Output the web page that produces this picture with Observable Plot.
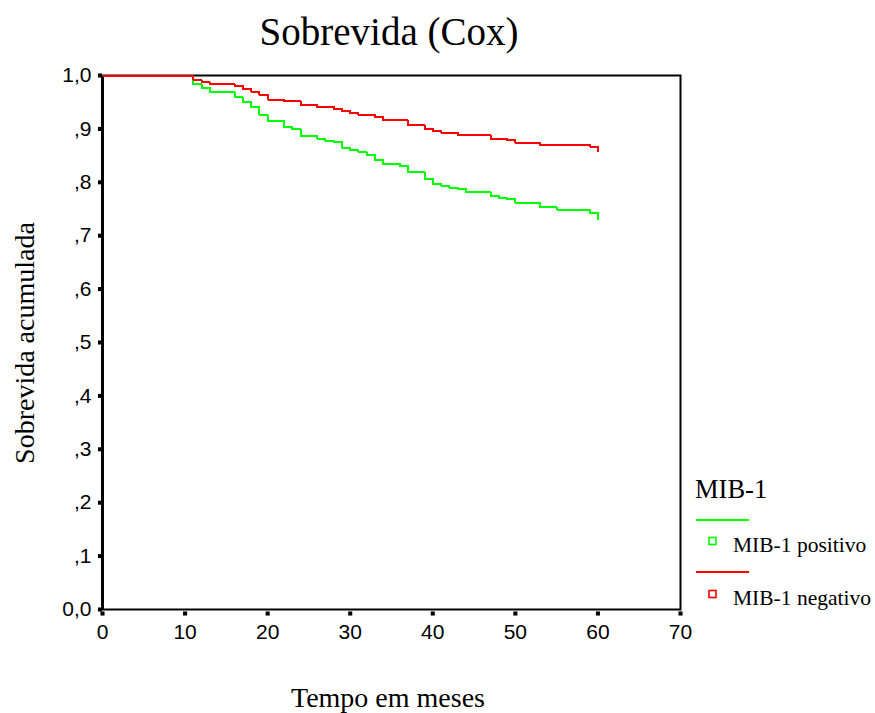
<!DOCTYPE html>
<html>
<head>
<meta charset="utf-8">
<script src="https://cdn.jsdelivr.net/npm/d3@7"></script>
<script src="https://cdn.jsdelivr.net/npm/@observablehq/plot@0.6"></script>
<style>
  html, body { margin: 0; padding: 0; background: #fff; }
  #chart { width: 875px; height: 713px; }
</style>
</head>
<body>
<div id="chart"></div>
<script>
// ---- Data ----
const titleText = "Sobrevida (Cox)";
const xLabel = "Tempo em meses";
const yLabel = "Sobrevida acumulada";
const legendTitle = "MIB-1";
const seriesNames = ["MIB-1 positivo", "MIB-1 negativo"];
const seriesColors = ["#00ff00", "#ff0000"];

const xTicks = [0, 10, 20, 30, 40, 50, 60, 70];
const yTicks = [0, 0.1, 0.2, 0.3, 0.4, 0.5, 0.6, 0.7, 0.8, 0.9, 1.0];
const yTickLabels = ["0,0", ",1", ",2", ",3", ",4", ",5", ",6", ",7", ",8", ",9", "1,0"];

// MIB-1 positivo (green) step curve: time (months) and cumulative survival
const posTimes = [0, 11, 12, 13, 16, 17, 18, 19, 20, 22, 23, 24, 26, 27, 28, 29, 30, 31, 32, 33, 34, 36, 37, 39, 40, 41, 42, 43, 44, 47, 48, 49, 50, 53, 55, 59, 60, 60];
const posSurv  = [1.000, 0.984, 0.977, 0.969, 0.959, 0.951, 0.941, 0.926, 0.915, 0.903, 0.899, 0.886, 0.882, 0.878, 0.875, 0.865, 0.860, 0.856, 0.851, 0.841, 0.834, 0.830, 0.819, 0.807, 0.797, 0.794, 0.790, 0.787, 0.782, 0.775, 0.771, 0.769, 0.762, 0.753, 0.749, 0.742, 0.735, 0.731];

// MIB-1 negativo (red) step curve
const negTimes = [0, 11, 12, 13, 16, 17, 18, 19, 20, 22, 24, 26, 28, 29, 30, 31, 33, 34, 37, 39, 40, 41, 43, 47, 49, 50, 53, 59, 60, 60];
const negSurv  = [1.000, 0.992, 0.987, 0.984, 0.981, 0.974, 0.970, 0.964, 0.955, 0.952, 0.945, 0.941, 0.937, 0.933, 0.929, 0.926, 0.922, 0.916, 0.907, 0.900, 0.896, 0.893, 0.889, 0.881, 0.879, 0.874, 0.870, 0.867, 0.862, 0.858];

// ---- Build tables ----
const pos = posTimes.map((t, i) => ({t, s: posSurv[i]}));
const neg = negTimes.map((t, i) => ({t, s: negSurv[i]}));
const yLabelMap = new Map(yTicks.map((d, i) => [d, yTickLabels[i]]));

const serif = "'Liberation Serif', 'Times New Roman', serif";
const sans = "'Liberation Sans', Arial, sans-serif";

const chart = Plot.plot({
  width: 875,
  height: 713,
  marginLeft: 102,
  marginRight: 195,
  marginTop: 75,
  marginBottom: 104,
  style: {fontFamily: sans, background: "#fff", color: "#000", overflow: "visible"},
  x: {domain: [0, 70]},
  y: {domain: [0, 1]},
  marks: [
    Plot.frame({stroke: "#000", strokeWidth: 2}),
    Plot.ruleX([0], {stroke: "#000", strokeWidth: 3}),
    Plot.axisY(yTicks, {tickSize: 0, tickPadding: 11, fontSize: 21, tickFormat: d => yLabelMap.get(d), label: null}),
    Plot.axisX(xTicks, {tickSize: 0, tickPadding: 15, fontSize: 21, label: null}),
    Plot.dot(yTicks, {x: 0, y: d => d, symbol: "square", r: 2.3, fill: "#000", dx: -2.5}),
    Plot.dot(xTicks, {x: d => d, y: 0, symbol: "square", r: 2.3, fill: "#000", dy: 4}),
    Plot.line(pos, {x: "t", y: "s", curve: "step-after", stroke: seriesColors[0], strokeWidth: 2, shapeRendering: "crispEdges"}),
    Plot.line(neg, {x: "t", y: "s", curve: "step-after", stroke: seriesColors[1], strokeWidth: 2, shapeRendering: "crispEdges"})
  ]
});

// ---- Titles and legend (layout text) ----
const svg = d3.select(chart);
svg.append("text")
  .attr("x", 389).attr("y", 45)
  .attr("text-anchor", "middle")
  .style("font-family", serif).style("font-size", "39px").attr("fill", "#000")
  .text(titleText);

svg.append("text")
  .attr("transform", "translate(34,343) rotate(-90)")
  .attr("text-anchor", "middle")
  .style("font-family", serif).style("font-size", "28px").attr("fill", "#000")
  .text(yLabel);

svg.append("text")
  .attr("x", 388).attr("y", 707)
  .attr("text-anchor", "middle")
  .style("font-family", serif).style("font-size", "28px").attr("fill", "#000")
  .text(xLabel);

const lg = svg.append("g").attr("text-anchor", "start");
lg.append("text")
  .attr("x", 695).attr("y", 498)
  .attr("text-anchor", "start")
  .style("font-family", serif).style("font-size", "26.5px").attr("fill", "#000")
  .text(legendTitle);

const lineYs = [520, 572];
const boxYs = [541, 594];
const textYs = [552, 605];
seriesNames.forEach((name, i) => {
  lg.append("line")
    .attr("x1", 696).attr("x2", 749)
    .attr("y1", lineYs[i]).attr("y2", lineYs[i])
    .attr("stroke", seriesColors[i]).attr("stroke-width", 2);
  lg.append("rect")
    .attr("x", 709).attr("y", boxYs[i] - 3.5)
    .attr("width", 7).attr("height", 7)
    .attr("fill", "none").attr("stroke", seriesColors[i]).attr("stroke-width", 1.6);
  lg.append("text")
    .attr("x", 733).attr("y", textYs[i])
    .attr("text-anchor", "start")
    .style("font-family", serif).style("font-size", "21.5px").attr("fill", "#000")
    .text(name);
});

document.getElementById("chart").appendChild(chart);
</script>
</body>
</html>
